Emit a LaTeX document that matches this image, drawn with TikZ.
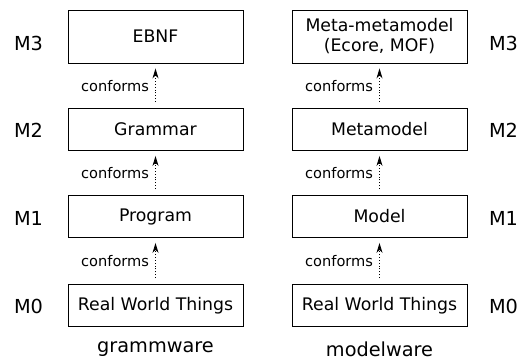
\documentclass[tikz,border=0pt]{standalone}
\usepackage{fontspec}
\setmainfont{DejaVu Sans}
\usetikzlibrary{arrows.meta}
\tikzset{>={Stealth[length=10pt,width=6pt,inset=3pt]}}
\tikzset{
  layer/.style={draw, line width=0.9pt, minimum width=175pt, minimum height=42pt,
    inner sep=0pt, align=center, font=\fontsize{17.3}{20}\selectfont},
  toplayer/.style={layer, minimum height=53pt},
  conforms/.style={->, dotted, line width=0.9pt, shorten >=5pt, shorten <=6pt},
  conflabel/.style={left, inner sep=6pt, font=\fontsize{14.6}{17}\selectfont},
  mlevel/.style={inner sep=0pt, font=\fontsize{19.3}{22}\selectfont},
  ware/.style={anchor=base, inner sep=0pt, font=\fontsize{19.3}{22}\selectfont}
}

\begin{document}
\begin{tikzpicture}[x=1pt, y=-1pt]
    \useasboundingbox (0,0) rectangle (527,363);
    \node (ebnf) at (155.5,36.5) [toplayer] {EBNF};
    \node (grammar) at (155.5,129.5) [layer] {Grammar};
    \node (program) at (155.5,216.5) [layer] {Program};
    \node (rwtleft) at (155.5,305.5) [layer] {Real World Things};
    \node (mmm) at (379.5,36.5) [toplayer] {Meta-metamodel\\(Ecore, MOF)};
    \node (mm) at (379.5,129.5) [layer] {Metamodel};
    \node (model) at (379.5,216.5) [layer] {Model};
    \node (rwtright) at (379.5,305.5) [layer] {Real World Things};
    \node (gw) at (155.5,352) [ware] {grammware};
    \node (mw) at (379.5,356) [ware] {modelware};
    \node (m3l) at (28.5,43) [mlevel] {M3};
    \node (m2l) at (28.5,130) [mlevel] {M2};
    \node (m1l) at (28.5,218) [mlevel] {M1};
    \node (m0l) at (28.5,306) [mlevel] {M0};
    \node (m3r) at (503.5,43) [mlevel] {M3};
    \node (m2r) at (503.5,130) [mlevel] {M2};
    \node (m1r) at (503.5,218) [mlevel] {M1};
    \node (m0r) at (503.5,306) [mlevel] {M0};
    \draw[conforms] (grammar) -- (ebnf) node [midway, conflabel] {conforms};
    \draw[conforms] (program) -- (grammar) node [midway, conflabel] {conforms};
    \draw[conforms] (rwtleft) -- (program) node [midway, conflabel] {conforms};
    \draw[conforms] (mm) -- (mmm) node [midway, conflabel] {conforms};
    \draw[conforms] (model) -- (mm) node [midway, conflabel] {conforms};
    \draw[conforms] (rwtright) -- (model) node [midway, conflabel] {conforms};
\end{tikzpicture}
\end{document}
